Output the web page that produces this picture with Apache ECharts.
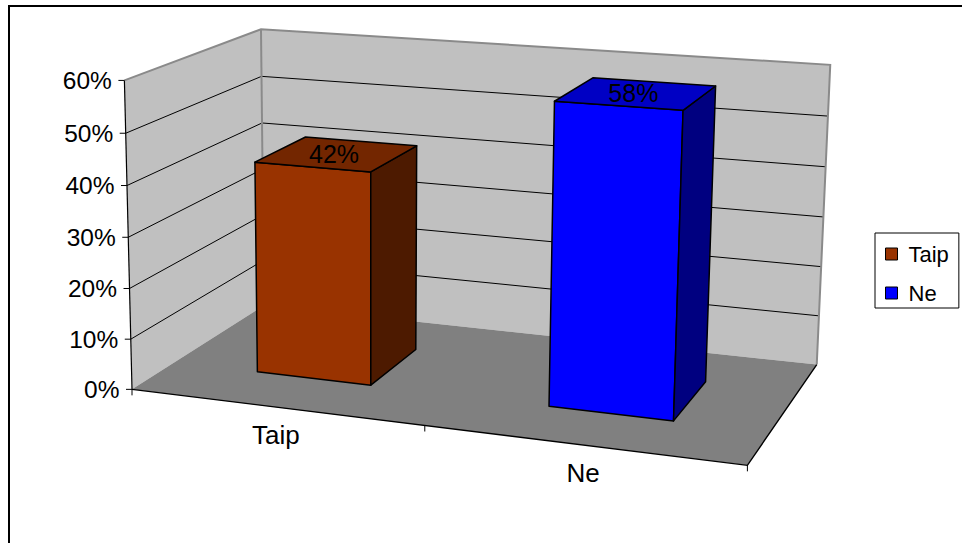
<!DOCTYPE html>
<html>
<head>
<meta charset="utf-8">
<script src="https://cdn.jsdelivr.net/npm/echarts@6/dist/echarts.min.js"></script>
<style>
html,body{margin:0;padding:0;background:#fff;}
#chart{width:962px;height:543px;}
</style>
</head>
<body>
<div id="chart"></div>
<script>
// ---------- data ----------
const categories = ['Taip', 'Ne'];
const values = [0.42, 0.58];
const dataLabels = ['42%', '58%'];
const valueTicks = [0, 0.1, 0.2, 0.3, 0.4, 0.5, 0.6];
const tickLabels = ['0%', '10%', '20%', '30%', '40%', '50%', '60%'];

// ---------- styles ----------
const FONT = '"Liberation Sans", Arial, Helvetica, sans-serif';
const faceColors = [
  { front: '#993300', top: '#732600', side: '#4d1a00' },
  { front: '#0000ff', top: '#0000c4', side: '#000080' }
];
const BAR_RATIO = 0.4;          // bar width / category band
const BAR_DEPTH = [0.3, 0.7];   // bar depth range on the floor (0 = front, 1 = back)

// 3D frame calibration: box corners [X, Y, Z] -> screen
const CALIB = [
  [0, 0, 0, 133.3, 388.3],
  [0, 1, 0, 122.7, 80.6],
  [0, 1 / 6, 0, 131.2, 338.8],
  [0, 0, 1, 262, 307],
  [0, 1, 1, 262, 29.3],
  [0, 5 / 6, 1, 262.5, 75.7],
  [1, 1, 1, 830, 64.3],
  [1, 5 / 6, 1, 827.7, 117.3],
  [1, 0, 1, 817.3, 362.7],
  [1, 0, 0, 747.3, 466.7]
];

function fitCamera(pts) {
  const A = [], b = [];
  pts.forEach(([X, Y, Z, u, v]) => {
    A.push([X, Y, Z, 1, 0, 0, 0, 0, -u * X, -u * Y, -u * Z]); b.push(u);
    A.push([0, 0, 0, 0, X, Y, Z, 1, -v * X, -v * Y, -v * Z]); b.push(v);
  });
  const n = 11, M = [];
  for (let i = 0; i < n; i++) {
    M[i] = [];
    for (let j = 0; j < n; j++) {
      let s = 0;
      for (let k = 0; k < A.length; k++) s += A[k][i] * A[k][j];
      M[i][j] = s;
    }
    let s = 0;
    for (let k = 0; k < A.length; k++) s += A[k][i] * b[k];
    M[i][n] = s;
  }
  for (let c = 0; c < n; c++) {
    let piv = c;
    for (let r = c + 1; r < n; r++) if (Math.abs(M[r][c]) > Math.abs(M[piv][c])) piv = r;
    [M[c], M[piv]] = [M[piv], M[c]];
    for (let r = 0; r < n; r++) {
      if (r === c) continue;
      const f = M[r][c] / M[c][c];
      for (let k = c; k <= n; k++) M[r][k] -= f * M[c][k];
    }
  }
  return M.map((row, i) => row[n] / row[i]);
}
const P = fitCamera(CALIB);
function proj(X, Y, Z) {
  const w = P[8] * X + P[9] * Y + P[10] * Z + 1;
  return [(P[0] * X + P[1] * Y + P[2] * Z + P[3]) / w, (P[4] * X + P[5] * Y + P[6] * Z + P[7]) / w];
}

function normalizer(params, api) {
  const cs = params.coordSys;
  return {
    nx: px => (px - cs.x) / cs.width,
    ny: py => (cs.y + cs.height - py) / cs.height,
    cs
  };
}

function poly(pts, style) {
  return { type: 'polygon', shape: { points: pts.map(p => proj(p[0], p[1], p[2])) }, style };
}
function pline(pts, style) {
  return { type: 'polyline', shape: { points: pts.map(p => proj(p[0], p[1], p[2])) }, style: Object.assign({ fill: null }, style) };
}

function renderFrame(params, api) {
  const { nx, ny } = normalizer(params, api);
  const yN = v => ny(api.coord([0, v])[1]);
  const top = yN(valueTicks[valueTicks.length - 1]);
  const ch = [];
  const wall = { fill: '#c0c0c0', stroke: null };
  ch.push(poly([[0, 0, 1], [1, 0, 1], [1, top, 1], [0, top, 1]], wall));
  ch.push(poly([[0, 0, 0], [0, 0, 1], [0, top, 1], [0, top, 0]], wall));
  ch.push(poly([[0, 0, 0], [1, 0, 0], [1, 0, 1], [0, 0, 1]], { fill: '#808080', stroke: null }));
  // gridlines
  valueTicks.forEach(t => {
    if (t === valueTicks[0] || t === valueTicks[valueTicks.length - 1]) return;
    const y = yN(t);
    ch.push(pline([[0, y, 0], [0, y, 1], [1, y, 1]], { stroke: '#000', lineWidth: 1 }));
  });
  // wall edges
  ch.push(pline([[0, top, 0], [0, top, 1], [1, top, 1], [1, 0, 1]], { stroke: '#8a8a8a', lineWidth: 2 }));
  ch.push(pline([[0, 0, 1], [0, top, 1]], { stroke: '#8a8a8a', lineWidth: 2 }));
  // value axis
  ch.push(pline([[0, 0, 0], [0, top, 0]], { stroke: '#000', lineWidth: 1.2 }));
  valueTicks.forEach((t, i) => {
    const p = proj(0, yN(t), 0);
    ch.push({ type: 'line', shape: { x1: p[0] - 6, y1: p[1], x2: p[0], y2: p[1] }, style: { stroke: '#000', lineWidth: 1 } });
    ch.push({ type: 'text', x: p[0] - 12.5, y: p[1], style: { text: tickLabels[i], fill: '#000', fontSize: 24.5, fontFamily: FONT, align: 'right', verticalAlign: 'middle' } });
  });
  // floor front and right edge
  ch.push(pline([[0, 0, 0], [1, 0, 0], [1, 0, 1]], { stroke: '#000', lineWidth: 1.4 }));
  // category ticks (band boundaries)
  const c0 = api.coord([0, 0])[0], c1 = api.coord([1, 0])[0];
  const band = c1 - c0;
  [c0 - band / 2, (c0 + c1) / 2, c1 + band / 2].forEach(px => {
    const p = proj(nx(px), 0, 0);
    ch.push({ type: 'line', shape: { x1: p[0], y1: p[1], x2: p[0], y2: p[1] + 6 }, style: { stroke: '#000', lineWidth: 1 } });
  });
  // category labels
  categories.forEach((c, i) => {
    const p = proj(nx(api.coord([i, 0])[0]), 0, 0);
    ch.push({ type: 'text', x: p[0] + 1, y: p[1] + 15, style: { text: c, fill: '#000', fontSize: 26, fontFamily: FONT, align: 'center', verticalAlign: 'top' } });
  });
  return { type: 'group', children: ch };
}

function renderBar(params, api) {
  const { nx, ny, cs } = normalizer(params, api);
  const cat = api.value(0), val = api.value(1);
  const c = api.coord([cat, val]);
  const c0 = api.coord([cat, 0]);
  const band = api.size([1, 0])[0];
  const xc = nx(c[0]);
  const hw = BAR_RATIO * band / 2 / cs.width;
  const h = ny(c[1]) - ny(c0[1]);
  const x0 = xc - hw, x1 = xc + hw, z0 = BAR_DEPTH[0], z1 = BAR_DEPTH[1];
  const col = faceColors[cat];
  const edge = { stroke: '#000', lineWidth: 1.5, lineJoin: 'round' };
  const ch = [];
  ch.push(poly([[x0, 0, z0], [x1, 0, z0], [x1, h, z0], [x0, h, z0]], Object.assign({ fill: col.front }, edge)));
  ch.push(poly([[x1, 0, z0], [x1, 0, z1], [x1, h, z1], [x1, h, z0]], Object.assign({ fill: col.side }, edge)));
  ch.push(poly([[x0, h, z0], [x1, h, z0], [x1, h, z1], [x0, h, z1]], Object.assign({ fill: col.top }, edge)));
  const lp = proj(xc, h, (z0 + z1) / 2);
  ch.push({ type: 'text', x: lp[0] - 3, y: lp[1], style: { text: dataLabels[cat], fill: '#000', fontSize: 25, fontFamily: FONT, align: 'center', verticalAlign: 'middle' } });
  return { type: 'group', children: ch };
}

const chart = echarts.init(document.getElementById('chart'), null, { renderer: 'svg' });
chart.setOption({
  animation: false,
  backgroundColor: '#fff',
  graphic: [{
    type: 'rect', z: 100, silent: true,
    shape: { x: 9, y: 6, width: 1000, height: 600 },
    style: { fill: null, stroke: '#000', lineWidth: 2 }
  }],
  grid: { left: 100, right: 100, top: 100, bottom: 100, show: false },
  xAxis: { type: 'category', data: categories, show: false },
  yAxis: { type: 'value', min: 0, max: valueTicks[valueTicks.length - 1], interval: 0.1, show: false },
  legend: {
    orient: 'vertical', left: 875, top: 233,
    data: categories,
    borderColor: '#000', borderWidth: 1,
    padding: [10, 10, 4, 10],
    itemWidth: 12, itemHeight: 12, itemGap: 17,
    icon: 'rect',
    selectedMode: false,
    itemStyle: { borderColor: '#000', borderWidth: 1 },
    textStyle: { fontSize: 22, fontFamily: FONT, color: '#000', padding: [0, 0, 0, 6] }
  },
  series: [
    { type: 'custom', name: 'frame', silent: true, clip: false, z: 1, renderItem: renderFrame, data: [[0, 0]] },
    { type: 'custom', name: categories[0], silent: true, clip: false, z: 2, renderItem: renderBar,
      itemStyle: { color: faceColors[0].front }, data: [[0, values[0]]] },
    { type: 'custom', name: categories[1], silent: true, clip: false, z: 3, renderItem: renderBar,
      itemStyle: { color: faceColors[1].front }, data: [[1, values[1]]] }
  ]
});
</script>
</body>
</html>
